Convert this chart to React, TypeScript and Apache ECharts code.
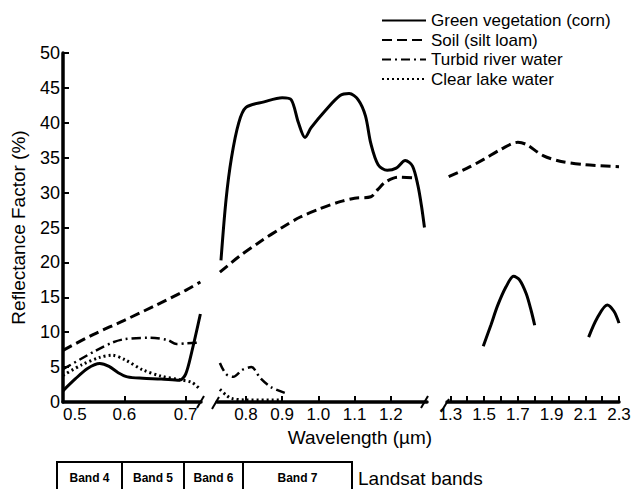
import React, { useEffect, useRef } from "react";
import * as echarts from "echarts";

const seriesNames = ["Green vegetation (corn)", "Soil (silt loam)", "Turbid river water", "Clear lake water"];

const vegSeg1 = [[0.5, 1.6], [0.52, 3.3], [0.54, 4.8], [0.56, 5.5], [0.575, 5.1], [0.59, 4.2], [0.605, 3.6], [0.63, 3.4], [0.66, 3.3], [0.69, 3.1], [0.7, 4.0], [0.71, 7.2], [0.724, 12.6]];
const vegSeg2 = [[0.731, 20.3], [0.745, 29], [0.76, 35], [0.78, 40], [0.8, 42.2], [0.85, 43.0], [0.9, 43.6], [0.925, 43.3], [0.945, 40], [0.963, 37.9], [0.98, 39.3], [1.02, 41.8], [1.06, 43.9], [1.085, 44.2], [1.11, 43.3], [1.13, 41], [1.145, 37], [1.165, 34], [1.19, 33.2], [1.215, 33.5], [1.24, 34.6], [1.26, 33.8], [1.275, 31], [1.285, 28], [1.293, 25]];
const vegSeg3a = [[1.495, 8.0], [1.54, 11], [1.58, 13.8], [1.63, 16.5], [1.675, 18.0], [1.71, 17.5], [1.75, 15.5], [1.78, 13], [1.8, 11]];
const vegSeg3b = [[2.12, 9.3], [2.17, 12], [2.23, 13.9], [2.27, 13.0], [2.3, 11.3]];

const soilSeg1 = [[0.5, 7.4], [0.55, 9.7], [0.6, 11.7], [0.65, 13.8], [0.7, 16.0], [0.724, 17.2]];
const soilSeg2 = [[0.728, 18.6], [0.78, 20.8], [0.84, 23], [0.9, 25], [0.95, 26.5], [1.0, 27.6], [1.06, 28.7], [1.1, 29.2], [1.145, 29.4], [1.165, 30.5], [1.185, 31.5], [1.22, 32.2], [1.265, 32.1]];
const soilSeg3 = [[1.29, 32.3], [1.4, 33.5], [1.5, 34.8], [1.6, 36.2], [1.7, 37.2], [1.75, 36.9], [1.85, 35.3], [1.95, 34.5], [2.1, 34.0], [2.3, 33.7]];

const turbidSeg1 = [[0.5, 4.7], [0.55, 7.2], [0.58, 8.5], [0.6, 9.0], [0.64, 9.2], [0.67, 8.9], [0.685, 8.3], [0.7, 8.4], [0.724, 8.5]];
const turbidSeg2 = [[0.728, 5.6], [0.745, 4.0], [0.765, 3.6], [0.79, 4.6], [0.815, 5.0], [0.84, 3.4], [0.87, 2.1], [0.913, 1.2]];

const clearSeg1 = [[0.5, 3.8], [0.53, 5.3], [0.56, 6.4], [0.58, 6.7], [0.6, 6.1], [0.63, 4.6], [0.66, 3.7], [0.69, 3.2], [0.71, 2.8], [0.724, 1.8]];
const clearSeg2 = [[0.728, 1.8], [0.745, 1.0], [0.76, 0.5], [0.8, 0.3], [0.9, 0.3]];

const xTicks1 = [0.5, 0.6, 0.7];
const xTicks2 = [0.8, 0.9, 1.0, 1.1, 1.2];
const xTicks3 = [1.3, 1.4, 1.5, 1.6, 1.7, 1.8, 1.9, 2.0, 2.1, 2.2, 2.3];
const xLabels3 = [1.3, 1.5, 1.7, 1.9, 2.1, 2.3];

const bandNames = ["Band 4", "Band 5", "Band 6", "Band 7"];
const bandEdges = [57, 122, 184, 243, 352];

const FONT = "Liberation Sans";

export default function App() {
  const ref = useRef<HTMLDivElement>(null);
  useEffect(() => {
    document.body.style.margin = "0";
    const chart = echarts.init(ref.current!, null, { renderer: "svg" });
    const top = 53;
    const height = 349;
    const grids = [
      { left: 63, width: 138, top, height },
      { left: 217, width: 210, top, height },
      { left: 447, width: 172, top, height },
    ];
    const axisLine = { show: true, lineStyle: { color: "#000", width: 3.5 } };
    const xAxisBase = (idx: number, min: number, max: number, ticks: number[], labels: number[]) => ({
      type: "value",
      gridIndex: idx,
      min,
      max,
      axisLine,
      splitLine: { show: false },
      axisTick: { show: true, inside: true, length: 6, customValues: ticks, lineStyle: { color: "#000", width: 2 } },
      axisLabel: {
        customValues: labels,
        formatter: (v: number) => v.toFixed(1),
        color: "#000",
        fontSize: 17,
        fontFamily: FONT,
        margin: 4,
        alignMinLabel: idx === 0 ? "left" : "center",
      },
    });
    const line = (name: string, data: number[][], idx: number, type: any, width: number) => ({
      type: "line",
      name,
      data,
      xAxisIndex: idx,
      yAxisIndex: idx,
      showSymbol: false,
      symbol: "none",
      smooth: 0.3,
      lineStyle: { color: "#000", width, type },
      itemStyle: { color: "#000" },
    });
    const solid = "solid";
    const dashed = [10, 5];
    const dashDot = [9, 4, 2, 4];
    const dotted = [2, 3];

    const graphic: any[] = [];
    const slashes = [
      [197, 408, 204, 396],
      [212, 409, 219, 397],
      [421, 408, 428, 396],
      [441, 412, 449, 399],
    ];
    slashes.forEach(([x1, y1, x2, y2]) =>
      graphic.push({ type: "line", shape: { x1, y1, x2, y2 }, style: { stroke: "#000", lineWidth: 2 } })
    );
    graphic.push({
      type: "text",
      x: 360,
      y: 437,
      style: { text: "Wavelength (µm)", fontSize: 19, fontFamily: FONT, fill: "#000", align: "center", verticalAlign: "middle" },
    });
    graphic.push({
      type: "polyline",
      shape: { points: [[bandEdges[0], 500], [bandEdges[0], 462], [bandEdges[4], 462], [bandEdges[4], 500]] },
      style: { stroke: "#000", lineWidth: 2, fill: "none" },
    });
    for (let i = 1; i < bandEdges.length - 1; i++) {
      graphic.push({ type: "line", shape: { x1: bandEdges[i], y1: 462, x2: bandEdges[i], y2: 500 }, style: { stroke: "#000", lineWidth: 2 } });
    }
    bandNames.forEach((n, i) => {
      graphic.push({
        type: "text",
        x: (bandEdges[i] + bandEdges[i + 1]) / 2,
        y: 478,
        style: { text: n, fontSize: 12, fontWeight: "bold", fontFamily: FONT, fill: "#000", align: "center", verticalAlign: "middle" },
      });
    });
    graphic.push({
      type: "text",
      x: 358,
      y: 478,
      style: { text: "Landsat bands", fontSize: 19, fontFamily: FONT, fill: "#000", align: "left", verticalAlign: "middle" },
    });

    chart.setOption({
      animation: false,
      backgroundColor: "#fff",
      textStyle: { fontFamily: FONT },
      grid: grids,
      legend: {
        data: seriesNames,
        orient: "vertical",
        left: 376,
        top: 7,
        itemWidth: 44,
        itemHeight: 14,
        itemGap: 2.5,
        itemStyle: { color: "rgba(0,0,0,0)", borderWidth: 0, opacity: 0 },
        textStyle: { fontSize: 17, fontFamily: FONT, color: "#000" },
        selectedMode: false,
      },
      xAxis: [
        xAxisBase(0, 0.5, 0.725, xTicks1, xTicks1),
        xAxisBase(1, 0.72, 1.3, xTicks2, xTicks2),
        xAxisBase(2, 1.28, 2.3, xTicks3, xLabels3),
      ],
      yAxis: [0, 1, 2].map((i) => ({
        type: "value",
        gridIndex: i,
        min: 0,
        max: 50,
        interval: 5,
        show: i === 0,
        name: i === 0 ? "Reflectance Factor (%)" : "",
        nameLocation: "middle",
        nameRotate: 90,
        nameGap: 35,
        nameTextStyle: { fontSize: 19, fontFamily: FONT, color: "#000" },
        axisLine,
        splitLine: { show: false },
        axisTick: { show: true, inside: true, length: 6, lineStyle: { color: "#000", width: 2 } },
        axisLabel: { color: "#000", fontSize: 18, fontFamily: FONT, margin: 3 },
      })),
      graphic,
      series: [
        line(seriesNames[0], vegSeg1, 0, solid, 3),
        line(seriesNames[1], soilSeg1, 0, dashed, 3),
        line(seriesNames[2], turbidSeg1, 0, dashDot, 2.5),
        line(seriesNames[3], clearSeg1, 0, dotted, 3),
        line(seriesNames[0], vegSeg2, 1, solid, 3),
        line(seriesNames[1], soilSeg2, 1, dashed, 3),
        line(seriesNames[2], turbidSeg2, 1, dashDot, 2.5),
        line(seriesNames[3], clearSeg2, 1, dotted, 3),
        line(seriesNames[0], vegSeg3a, 2, solid, 3),
        line(seriesNames[0], vegSeg3b, 2, solid, 3),
        line(seriesNames[1], soilSeg3, 2, dashed, 3),
      ],
    });
    return () => chart.dispose();
  }, []);
  return <div ref={ref} style={{ width: 635, height: 489 }} />;
}
